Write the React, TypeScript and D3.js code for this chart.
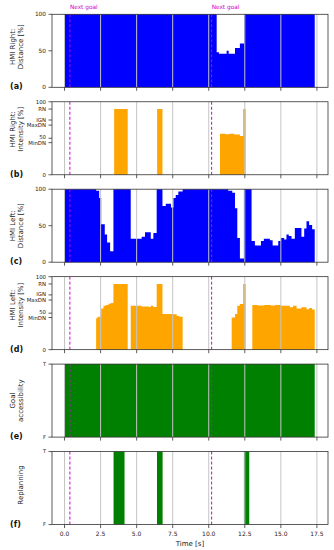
import { useMemo } from 'react'
import * as d3 from 'd3'

// time ticks + goal events
const X_TICKS = [0, 2.5, 5, 7.5, 10, 12.5, 15, 17.5]
const GOAL_TIMES = [0.37, 10.2]

// intensity levels (HMI thresholds)
const DN_TICKS = [0, 44, 50, 68, 75, 90, 100]
const DN_LABELS = ['0', 'MinDN', '50', 'MaxDN', 'IGN', 'RN', '100']
// small label nudges so 50 / MinDN don't collide
const DN_NUDGE = [0, 0.4, -1.3, 0, -0.3, 0, 0]
const PCT_TICKS = [0, 50, 100]

// (a) HMI Right: distance, step starts + values
const rightDistT = [0, 10.55, 10.71, 11.24, 11.38, 11.82, 12.16, 12.46, 17.35]
const rightDistV = [100, 48, 46, 50, 46, 54, 60, 100, 0]

// (b) HMI Right: intensity
const rightIntT = [0, 3.44, 4.38, 6.42, 6.79, 10.78, 11.17, 11.42, 11.77, 12.16, 12.39, 12.56, 17.35]
const rightIntV = [0, 90, 0, 90, 0, 56, 55.5, 56, 55, 53, 90, 0, 0]

// (c) HMI Left: distance
const leftDistT = [0, 2.19, 2.4, 2.54, 2.79, 2.95, 3.16, 3.39, 4.59, 5.35, 5.58, 5.98, 6.16, 6.39, 6.79, 7.02,
  7.38, 7.55, 7.71, 7.89, 8.19, 11.35, 11.63, 11.82, 11.98, 12.16, 12.44, 12.97, 13.2, 13.62, 13.82, 14.24,
  14.43, 14.82, 15.0, 15.23, 15.39, 15.55, 15.74, 15.97, 16.43, 16.62, 16.78, 16.96, 17.17, 17.35]
const leftDistV = [100, 98, 88, 52, 38, 27, 15, 100, 32, 35, 41, 32, 40, 100, 77, 80,
  75, 88, 92, 97, 100, 98, 95, 74, 33, 5, 100, 29, 23, 29, 32, 30,
  23, 29, 33, 31, 38, 36, 32, 47, 35, 46, 56, 51, 45, 0]

// (d) HMI Left: intensity
const leftIntT = [0, 2.19, 2.29, 2.54, 2.7, 2.88, 3.05, 3.21, 3.39, 4.38, 4.59, 5.35, 5.86, 5.98, 6.16, 6.39,
  6.79, 7.55, 7.78, 7.96, 8.19, 11.59, 11.82, 11.98, 12.16, 12.39, 12.56, 13.02, 13.4, 13.85, 14.3, 14.6,
  15.0, 15.62, 15.85, 16.09, 16.43, 16.78, 16.96, 17.17, 17.35]
const leftIntV = [0, 43, 45, 56.5, 60, 61, 63, 64, 90, 0, 60, 59, 58.5, 60, 58.5, 90,
  49, 48.5, 46, 45, 0, 44, 49, 60, 62.5, 90, 0, 61, 60.5, 61, 60.5, 61,
  60, 58, 60, 56.5, 58, 55.5, 57, 55, 0]

// (e) goal accessibility, (f) replanning (1 = T)
const goalT = [0, 17.35]
const goalV = [1, 0]
const replanT = [0, 3.4, 4.16, 6.41, 6.8, 12.44, 12.81, 17.35]
const replanV = [0, 1, 0, 1, 0, 1, 0, 0]

const W = 334
const H = 550
const LEFT = 52
const RIGHT = 328
const TOP0 = 14.3
const STEP = 87.45
const PH = 73
const FONT = 'DejaVu Sans, sans-serif'
const GOAL_COLOR = '#d000d0'

const panels = [
  { tag: '(a)', label: ['HMI Right:', 'Distance [%]'], t: rightDistT, v: rightDistV, color: '#0000ff', kind: 'pct', labelY: -4 },
  { tag: '(b)', label: ['HMI Right:', 'Intensity [%]'], t: rightIntT, v: rightIntV, color: '#ffa500', kind: 'dn', labelY: -9 },
  { tag: '(c)', label: ['HMI Left:', 'Distance [%]'], t: leftDistT, v: leftDistV, color: '#0000ff', kind: 'pct', labelY: 0 },
  { tag: '(d)', label: ['HMI Left:', 'Intensity [%]'], t: leftIntT, v: leftIntV, color: '#ffa500', kind: 'dn', labelY: -8 },
  { tag: '(e)', label: ['Goal', 'accessibility'], t: goalT, v: goalV, color: '#008000', kind: 'bool', labelY: 0 },
  { tag: '(f)', label: ['Replanning'], t: replanT, v: replanV, color: '#008000', kind: 'bool', labelY: -3 },
]

function Panel({ p, i, x }) {
  const top = TOP0 + i * STEP
  const bottom = top + PH
  const maxV = p.kind === 'bool' ? 1 : 100
  const y = d3.scaleLinear().domain([0, maxV]).range([bottom, top])
  const pts: [number, number][] = p.t.map((t, k) => [t, p.v[k]])
  const area = d3.area<[number, number]>()
    .x(d => x(d[0]))
    .y0(y(0))
    .y1(d => y(d[1]))
    .curve(d3.curveStepAfter)

  let ticks: number[] = []
  let labels: string[] = []
  let nudge: number[] = []
  if (p.kind === 'pct') { ticks = PCT_TICKS; labels = PCT_TICKS.map(String) }
  else if (p.kind === 'dn') { ticks = DN_TICKS; labels = DN_LABELS; nudge = DN_NUDGE }
  else { ticks = [0, 1]; labels = ['F', 'T'] }
  const tickFont = p.kind === 'bool' ? 5 : p.kind === 'dn' ? 5.4 : 5.8

  const isLast = i === panels.length - 1
  const midY = (top + bottom) / 2 + p.labelY

  return (
    <g>
      <path d={area(pts) || ''} fill={p.color} />
      {X_TICKS.map(t => (
        <line key={t} x1={x(t)} x2={x(t)} y1={top} y2={bottom} stroke="#c4c4c4" strokeWidth={1} />
      ))}
      {GOAL_TIMES.map(t => (
        <line key={t} x1={x(t)} x2={x(t)} y1={top} y2={bottom} stroke={GOAL_COLOR} strokeWidth={1} strokeDasharray="3,2" />
      ))}
      <rect x={LEFT} y={top} width={RIGHT - LEFT} height={PH} fill="none" stroke="#333" strokeWidth={0.8} />
      {ticks.map((tv, k) => (
        <g key={k}>
          <line x1={LEFT - 3.5} x2={LEFT} y1={y(tv)} y2={y(tv)} stroke="#333" strokeWidth={0.8} />
          <text x={LEFT - 6} y={y(tv) + (nudge[k] || 0)} dy="0.35em" textAnchor="end" fontSize={tickFont}
            fontFamily={FONT} fill="#222">{labels[k]}</text>
        </g>
      ))}
      {X_TICKS.map(t => (
        <line key={'xt' + t} x1={x(t)} x2={x(t)} y1={bottom} y2={bottom + 3.5} stroke="#333" strokeWidth={0.8} />
      ))}
      {isLast && X_TICKS.map(t => (
        <text key={'xl' + t} x={x(t)} y={bottom + 11.5} textAnchor="middle" fontSize={6} fontFamily={FONT} fill="#222">
          {t.toFixed(1)}
        </text>
      ))}
      {p.label.map((line, k) => {
        const lx = p.label.length === 1 ? 21 : 13 + k * 8
        return (
          <text key={k} transform={`translate(${lx},${midY}) rotate(-90)`} textAnchor="middle" dy="0.35em"
            fontSize={7} fontFamily={FONT} fill="#222">{line}</text>
        )
      })}
      <text x={10} y={bottom + 2} fontSize={8} fontWeight="bold" fontFamily={FONT} fill="#111">{p.tag}</text>
    </g>
  )
}

export default function App() {
  const x = useMemo(() => d3.scaleLinear().domain([-0.87, 18.27]).range([LEFT, RIGHT]), [])
  const lastBottom = TOP0 + (panels.length - 1) * STEP + PH
  return (
    <svg width={W} height={H} style={{ position: 'absolute', left: 0, top: 0, background: '#fff' }}>
      {GOAL_TIMES.map(t => (
        <text key={t} x={x(t)} y={8.5} fontSize={5.8} fontFamily={FONT} fill={GOAL_COLOR}>Next goal</text>
      ))}
      {panels.map((p, i) => <Panel key={p.tag} p={p} i={i} x={x} />)}
      <text x={(LEFT + RIGHT) / 2} y={lastBottom + 21} textAnchor="middle" fontSize={7} fontFamily={FONT} fill="#222">
        Time [s]
      </text>
    </svg>
  )
}
